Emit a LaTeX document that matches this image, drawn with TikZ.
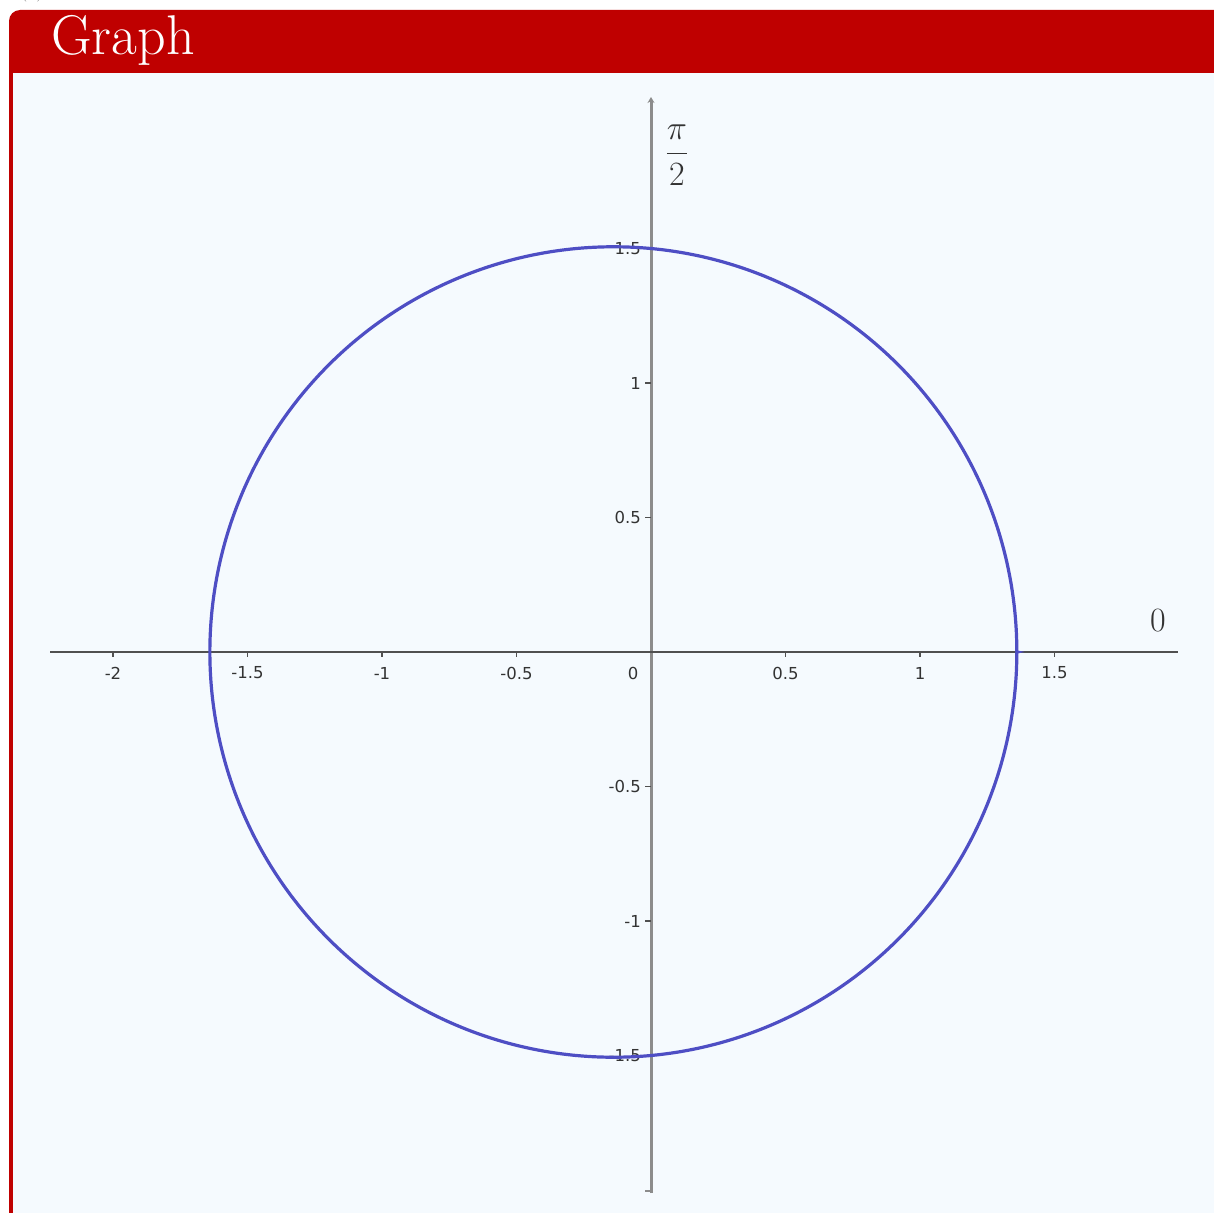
\RequirePackage{fix-cm}
\documentclass[tikz,border=0pt]{standalone}
\usepackage{fontspec}
\newfontfamily\ticksf{DejaVu Sans}
\usetikzlibrary{arrows.meta}
\definecolor{framered}{HTML}{BF0000}
\definecolor{boxbg}{HTML}{F5FAFE}
\definecolor{curveblue}{HTML}{4E4EC4}
\definecolor{xaxisgray}{HTML}{505050}
\definecolor{yaxisgray}{HTML}{8C8C8C}
\definecolor{ticktext}{HTML}{333333}
\tikzset{
  ticklab/.style={font=\ticksf\fontsize{16.5}{16.5}\selectfont, text=ticktext, inner sep=0pt},
  axlab/.style={font=\fontsize{34}{38}\selectfont, text=black!80, inner sep=0pt},
  tickmark/.style={draw=xaxisgray, line width=1.2pt},
  curve/.style={draw=curveblue, line width=3.2pt},
}
\begin{document}
\begin{tikzpicture}[x=1pt,y=-1pt]
\useasboundingbox (0,0) rectangle (1214,1212);
% outer frame
\fill[framered, rounded corners=11pt] (9,10) rectangle (1260,1260);
\fill[boxbg] (13,73) rectangle (1260,1260);
\node[anchor=base west, inner sep=0pt, text=white, font=\fontsize{56}{60}\selectfont] (title) at (51,55) {Graph};
\node[text=black!60, font=\fontsize{22}{24}\selectfont, inner sep=0pt] (lbl) at (32,-9) {(c)};
% axes
\coordinate (xl) at (50,652);
\coordinate (xr) at (1178,652);
\coordinate (yt) at (651,97);
\coordinate (yb) at (651,1193);
\draw[yaxisgray, line width=3pt, -{Stealth[length=6pt,width=7pt]}] (yb) -- (yt);
\draw[xaxisgray, line width=2pt] (xl) -- (xr);
\draw[yaxisgray, line width=1.2pt] (645,1191) -- (651,1191);
% x ticks and labels
\foreach \v/\t in {-4/-2,-3/-1.5,-2/-1,-1/-0.5,1/0.5,2/1,3/1.5}{
  \draw[tickmark] ({651+134.5*\v},652) -- ({651+134.5*\v},657);
  \node[ticklab] (xt\v) at ({651+134.5*\v},673) {\t};
}
\node[ticklab] (xt0) at (633,673) {0};
% y ticks and labels
\foreach \v/\t in {3/1.5,2/1,1/0.5,-1/-0.5,-2/-1,-3/-1.5}{
  \draw[tickmark] (645,{652-134.5*\v}) -- (651,{652-134.5*\v});
  \node[ticklab, anchor=east] (yt\v) at (641,{652-134.5*\v}) {\t};
}
% curve
\draw[curve] plot[domain=0:360, samples=240, smooth cycle]
  ({651+269*(1.5-0.14*cos(\x))*cos(\x)}, {652-269*(1.5-0.14*cos(\x))*sin(\x)});
% axis labels
\node[axlab] (zero) at (1158,621) {$0$};
\node[axlab] (halfpi) at (677,155) {$\displaystyle\frac{\pi}{2}$};
\end{tikzpicture}
\end{document}
